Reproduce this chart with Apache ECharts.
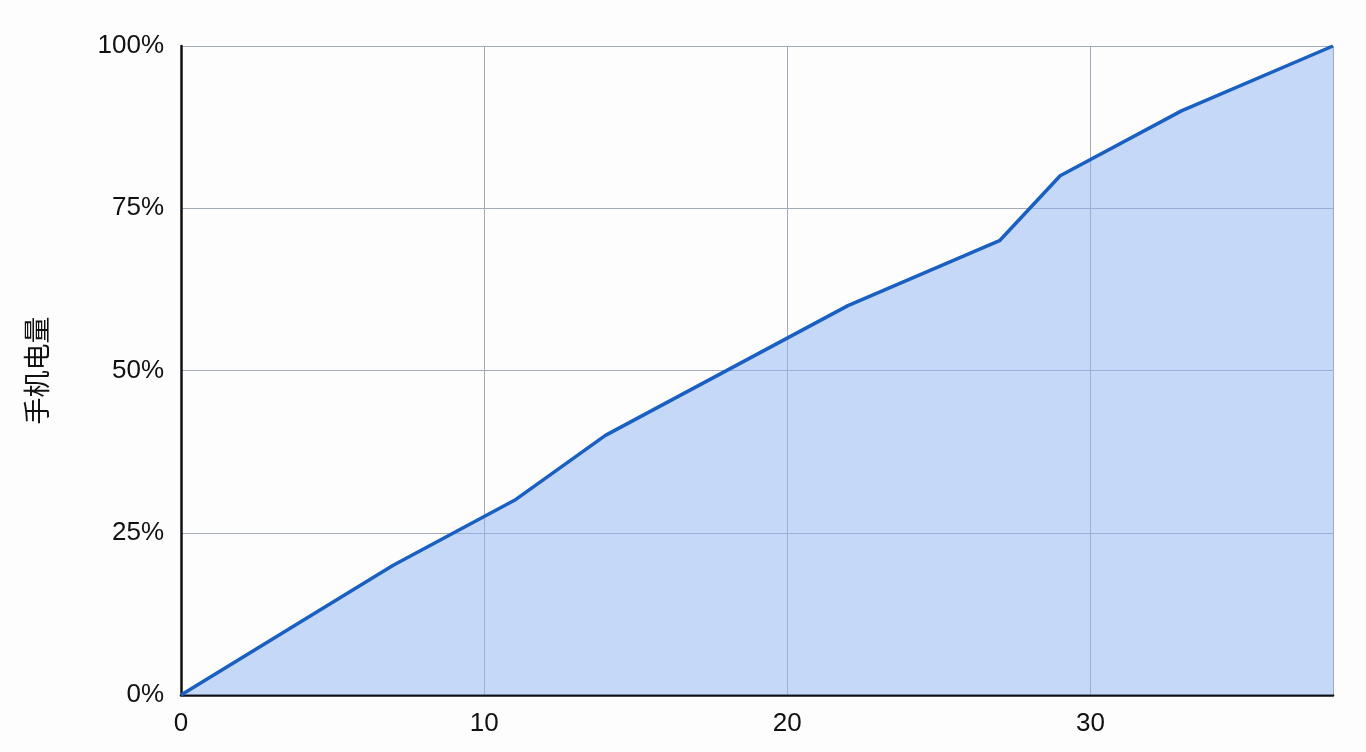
<!DOCTYPE html>
<html>
<head>
<meta charset="utf-8">
<script src="https://cdn.jsdelivr.net/npm/echarts@6/dist/echarts.min.js"></script>
<style>
  html, body { margin: 0; padding: 0; background: #fdfdfd; }
  #chart { width: 1366px; height: 752px; }
</style>
</head>
<body>
<div id="chart"></div>
<script>
// 时间（x）与手机电量（%）
const xValues = [0, 7, 11, 14, 22, 27, 29, 33, 38]
const batteryPct = [0, 20, 30, 40, 60, 70, 80, 90, 100]
const yTicks = [0, 25, 50, 75, 100]

const points = xValues.map((x, i) => [x, batteryPct[i]])

const chart = echarts.init(document.getElementById('chart'))
const option = {
  backgroundColor: '#fdfdfd',
  animation: false,
  grid: {
    left: 181,
    right: 33,
    top: 46,
    bottom: 57
  },
  xAxis: {
    type: 'value',
    min: 0,
    max: 38,
    interval: 10,
    axisLine: { show: true, lineStyle: { color: '#111', width: 2.5 } },
    axisTick: { show: false },
    axisLabel: {
      showMaxLabel: false,
      margin: 16,
      color: '#111',
      fontSize: 26,
      fontFamily: 'Liberation Sans'
    },
    splitLine: { show: true, lineStyle: { color: '#a4abb8', width: 1 } }
  },
  yAxis: {
    type: 'value',
    min: yTicks[0],
    max: yTicks[yTicks.length - 1],
    interval: 25,
    name: '手机电量',
    nameLocation: 'middle',
    nameGap: 131,
    nameRotate: 90,
    nameTextStyle: {
      color: '#111',
      fontSize: 27,
      fontFamily: 'Noto Sans CJK SC'
    },
    axisLine: { show: true, lineStyle: { color: '#111', width: 2.5 } },
    axisTick: { show: false },
    axisLabel: {
      formatter: '{value}%',
      margin: 17,
      color: '#111',
      fontSize: 26,
      fontFamily: 'Liberation Sans'
    },
    splitLine: { show: true, lineStyle: { color: '#a4abb8', width: 1 } }
  },
  series: [
    {
      type: 'line',
      data: points,
      showSymbol: false,
      lineStyle: { color: '#1a5fc2', width: 3.5 },
      areaStyle: { color: '#8fb4f2', opacity: 0.5 }
    }
  ]
}
chart.setOption(option)
</script>
</body>
</html>
